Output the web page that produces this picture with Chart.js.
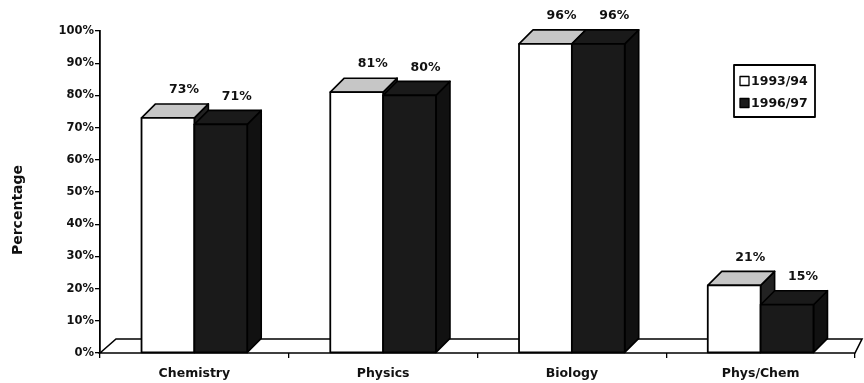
<!DOCTYPE html>
<html><head><meta charset="utf-8">
<script src="https://cdn.jsdelivr.net/npm/chart.js@4/dist/chart.umd.min.js"></script>
<style>html,body{margin:0;padding:0;background:#fff}#wrap{width:864px;height:383px;position:relative}</style>
</head><body><div id="wrap"><canvas id="c" width="864" height="383"></canvas></div>
<script>
const categories = ['Chemistry', 'Physics', 'Biology', 'Phys/Chem'];
const seriesNames = ['1993/94', '1996/97'];
const values1993 = [73, 81, 96, 21];
const values1996 = [71, 80, 96, 15];
const yMin = 0, yMax = 100, yStep = 10;
const yTitle = 'Percentage';

const FONT = '"DejaVu Sans", sans-serif';
const DX = 14, DY = 14;
const FILLS = ['#ffffff', '#1a1a1a'];
const TOPS = ['#c6c6c6', '#1a1a1a'];
const SIDES = ['#222222', '#111111'];

function poly(ctx, pts, fill, stroke, lw) {
  ctx.beginPath();
  ctx.moveTo(pts[0][0], pts[0][1]);
  for (let i = 1; i < pts.length; i++) ctx.lineTo(pts[i][0], pts[i][1]);
  ctx.closePath();
  if (fill) { ctx.fillStyle = fill; ctx.fill(); }
  if (stroke) { ctx.strokeStyle = stroke; ctx.lineWidth = lw || 1.6; ctx.stroke(); }
}

const threeD = {
  id: 'threeD',
  beforeDatasetsDraw(chart) {
    const { ctx, chartArea: a } = chart;
    ctx.save();
    const fx = 16;
    poly(ctx, [[a.left, a.bottom], [a.left + fx, a.bottom - DY], [Math.min(a.right + fx, 862), a.bottom - DY], [a.right, a.bottom]], '#ffffff', '#000', 1.6);
    ctx.restore();
  },
  afterDatasetsDraw(chart) {
    const { ctx } = chart;
    ctx.save();
    ctx.lineJoin = 'round';
    const n = chart.data.labels.length;
    for (let j = 0; j < n; j++) {
      chart.data.datasets.forEach((ds, i) => {
        const el = chart.getDatasetMeta(i).data[j];
        const p = el.getProps(['x', 'y', 'base', 'width'], true);
        const l = p.x - p.width / 2, r = p.x + p.width / 2;
        poly(ctx, [[r, p.y], [r + DX, p.y - DY], [r + DX, p.base - DY], [r, p.base]], SIDES[i], '#000');
        poly(ctx, [[l, p.y], [l + DX, p.y - DY], [r + DX, p.y - DY], [r, p.y]], TOPS[i], '#000');
        poly(ctx, [[l, p.y], [r, p.y], [r, p.base], [l, p.base]], FILLS[i], '#000', 1.8);
      });
    }
    ctx.fillStyle = '#111';
    ctx.font = 'bold 12.5px ' + FONT;
    ctx.textAlign = 'center';
    ctx.textBaseline = 'middle';
    chart.data.datasets.forEach((ds, i) => {
      chart.getDatasetMeta(i).data.forEach((el, j) => {
        const p = el.getProps(['x', 'y'], true);
        ctx.fillText(ds.data[j] + '%', p.x + 16, p.y - 28);
      });
    });
    // legend
    const lx = 734, ly = 65, lw = 81, lh = 52;
    ctx.fillStyle = '#fff';
    ctx.fillRect(lx, ly, lw, lh);
    ctx.strokeStyle = '#000';
    ctx.lineWidth = 1.8;
    ctx.strokeRect(lx, ly, lw, lh);
    ctx.textAlign = 'left';
    ctx.font = 'bold 12.5px ' + FONT;
    chart.data.datasets.forEach((ds, i) => {
      const cy = ly + 16 + i * 22;
      ctx.fillStyle = FILLS[i];
      ctx.fillRect(lx + 6, cy - 4.5, 9, 9);
      ctx.lineWidth = 1.3;
      ctx.strokeRect(lx + 6, cy - 4.5, 9, 9);
      ctx.fillStyle = '#111';
      ctx.fillText(ds.label, lx + 17, cy + 0.5);
    });
    // y title
    ctx.translate(18, 210);
    ctx.rotate(-Math.PI / 2);
    ctx.textAlign = 'center';
    ctx.font = 'bold 14px ' + FONT;
    ctx.fillText(yTitle, 0, 0);
    ctx.restore();
  }
};

new Chart(document.getElementById('c'), {
  type: 'bar',
  data: {
    labels: categories,
    datasets: [
      { label: seriesNames[0], data: values1993, backgroundColor: FILLS[0], borderColor: '#000', borderWidth: 1.5, categoryPercentage: 0.56, barPercentage: 1.0 },
      { label: seriesNames[1], data: values1996, backgroundColor: FILLS[1], borderColor: '#000', borderWidth: 1.5, categoryPercentage: 0.56, barPercentage: 1.0 }
    ]
  },
  options: {
    responsive: false,
    devicePixelRatio: 1,
    animation: false,
    layout: { padding: { left: 0, top: 31, right: 9, bottom: 0 } },
    plugins: { legend: { display: false }, tooltip: { enabled: false } },
    scales: {
      x: {
        grid: { display: true, drawOnChartArea: false, offset: true, tickLength: 5, color: '#000', lineWidth: 1.3 },
        border: { display: false },
        ticks: { color: '#111', font: { family: FONT, size: 12.5, weight: 'bold' }, padding: 8, maxRotation: 0 },
        afterFit(s) { s.height = 30; }
      },
      y: {
        min: yMin, max: yMax,
        grid: { display: true, drawOnChartArea: false, tickLength: 5, color: '#000', lineWidth: 1.3 },
        border: { display: true, color: '#000', width: 1.8 },
        ticks: { stepSize: yStep, color: '#111', padding: 1, font: { family: FONT, size: 11.5, weight: 'bold' }, callback: v => v + '%' },
        afterFit(s) { s.width = 100; }
      }
    }
  },
  plugins: [threeD]
});
</script>
</body></html>
